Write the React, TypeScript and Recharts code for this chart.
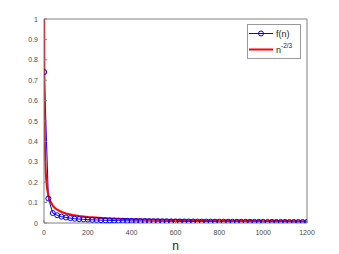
import React from 'react';
import { LineChart, Line, XAxis, YAxis, Legend } from 'recharts';

const blueN = [1, 20, 40, 60, 80, 100, 120, 140, 160, 180, 200, 220, 240, 260, 280, 300, 320, 340, 360, 380, 400, 420, 440, 460, 480, 500, 520, 540, 560, 580, 600, 620, 640, 660, 680, 700, 720, 740, 760, 780, 800, 820, 840, 860, 880, 900, 920, 940, 960, 980, 1000, 1020, 1040, 1060, 1080, 1100, 1120, 1140, 1160, 1180, 1200];
const blueF = [0.74, 0.12, 0.049, 0.038, 0.031, 0.027, 0.024, 0.021, 0.019, 0.018, 0.0165, 0.0155, 0.0147, 0.0139, 0.0132, 0.0126, 0.0121, 0.0116, 0.0112, 0.0108, 0.0104, 0.0101, 0.0098, 0.0095, 0.0092, 0.009, 0.0087, 0.0085, 0.0083, 0.0081, 0.0079, 0.0078, 0.0076, 0.0074, 0.0073, 0.0072, 0.007, 0.0069, 0.0068, 0.0066, 0.0065, 0.0064, 0.0063, 0.0062, 0.0061, 0.006, 0.0059, 0.0058, 0.0058, 0.0057, 0.0056, 0.0055, 0.0055, 0.0054, 0.0053, 0.0053, 0.0052, 0.0051, 0.0051, 0.005, 0.005];

const redN = [1, 2, 3, 4, 5, 6, 8, 10, 13, 16, 20, 25, 30, 40, 50, 60, 80, 100, 130, 160, 200, 250, 300, 400, 500, 600, 700, 800, 900, 1000, 1100, 1200];
const redV = [1, 0.63, 0.481, 0.397, 0.342, 0.303, 0.25, 0.215, 0.181, 0.157, 0.136, 0.117, 0.104, 0.0855, 0.0737, 0.0653, 0.0539, 0.0464, 0.039, 0.0339, 0.0292, 0.0252, 0.0223, 0.0184, 0.0159, 0.0141, 0.0127, 0.0116, 0.0107, 0.01, 0.0094, 0.0089];

const xTicks = [0, 200, 400, 600, 800, 1000, 1200];
const yTicks = [0, 0.1, 0.2, 0.3, 0.4, 0.5, 0.6, 0.7, 0.8, 0.9, 1];

const blueData = blueN.map((n, i) => ({ n, f: blueF[i] }));
const redData = redN.map((n, i) => ({ n, r: redV[i] }));

const AXIS = '#808080';
const TXT = '#4a4a4a';
const FONT = '"Liberation Sans", Arial, Helvetica, sans-serif';
const XM = 4;
const YM = 4;

const BottomTick = (props: any) => {
  const { x, y, payload } = props;
  const ay = y - XM;
  return (
    <g>
      <line x1={x} y1={ay} x2={x} y2={ay - 3} stroke={AXIS} strokeWidth={1} />
      <text x={x} y={ay + 12} textAnchor="middle" fontSize={7} fill={TXT} fontFamily={FONT}>
        {String(payload.value)}
      </text>
    </g>
  );
};

const LeftTick = (props: any) => {
  const { x, y, payload } = props;
  const ax = x + YM;
  return (
    <g>
      <line x1={ax} y1={y} x2={ax + 3} y2={y} stroke={AXIS} strokeWidth={1} />
      <text x={ax - 6} y={y + 2.5} textAnchor="end" fontSize={7} fill={TXT} fontFamily={FONT}>
        {String(Math.round(payload.value * 10) / 10)}
      </text>
    </g>
  );
};

const LegendBox = () => (
  <div style={{ width: 54, height: 35, boxSizing: 'border-box', border: '1px solid #999', background: '#fff' }}>
    <svg width={52} height={33} style={{ display: 'block' }}>
      <line x1={1} y1={8.5} x2={25} y2={8.5} stroke="#0000ff" strokeWidth={1} />
      <circle cx={13} cy={8.5} r={2.5} stroke="#0000ff" fill="none" strokeWidth={1} />
      <text x={28} y={11.5} fontSize={9} fill="#262626" fontFamily={FONT}>f(n)</text>
      <line x1={1} y1={24.5} x2={25} y2={24.5} stroke="#ff0000" strokeWidth={2} />
      <text x={28} y={27.5} fontSize={9} fill="#262626" fontFamily={FONT}>n</text>
      <text x={33} y={22.5} fontSize={6.5} fill="#262626" fontFamily={FONT}>-2/3</text>
    </svg>
  </div>
);

export default function App() {
  return (
    <div style={{ position: 'absolute', left: 0, top: 0, width: 339, height: 254, background: '#fff' }}>
      <LineChart width={339} height={254} margin={{ top: 19, right: 32, left: 8, bottom: 1 }}>
        <XAxis
          xAxisId="b"
          type="number"
          dataKey="n"
          domain={[0, 1200]}
          ticks={xTicks}
          interval={0}
          allowDataOverflow
          height={30}
          tickLine={false}
          tickSize={0}
          tickMargin={XM}
          tick={<BottomTick />}
          axisLine={{ stroke: AXIS }}
          label={{ value: 'n', position: 'insideBottom', offset: 3, fontSize: 12, fill: '#262626', fontFamily: FONT }}
        />
        <XAxis
          xAxisId="t"
          orientation="top"
          type="number"
          dataKey="n"
          domain={[0, 1200]}
          ticks={xTicks}
          interval={0}
          mirror
          tickSize={3}
          tickLine={{ stroke: AXIS }}
          axisLine={{ stroke: AXIS }}
          tickFormatter={() => ''}
        />
        <YAxis
          yAxisId="l"
          type="number"
          domain={[0, 1]}
          ticks={yTicks}
          interval={0}
          allowDataOverflow
          width={36}
          tickLine={false}
          tickSize={0}
          tickMargin={YM}
          tick={<LeftTick />}
          axisLine={{ stroke: AXIS }}
        />
        <YAxis
          yAxisId="r"
          orientation="right"
          type="number"
          domain={[0, 1]}
          ticks={yTicks}
          interval={0}
          mirror
          tickSize={3}
          tickLine={{ stroke: AXIS }}
          axisLine={{ stroke: AXIS }}
          tickFormatter={() => ''}
        />
        <Line
          xAxisId="b"
          yAxisId="l"
          data={blueData}
          dataKey="f"
          type="linear"
          stroke="#0000ff"
          strokeWidth={1}
          dot={{ r: 2.5, stroke: '#0000ff', fill: 'none', strokeWidth: 1 }}
          isAnimationActive={false}
        />
        <Line
          xAxisId="b"
          yAxisId="l"
          data={redData}
          dataKey="r"
          type="linear"
          stroke="#ff0000"
          strokeWidth={2}
          dot={false}
          isAnimationActive={false}
        />
        <Legend
          layout="vertical"
          align="center"
          verticalAlign="middle"
          content={() => <LegendBox />}
          wrapperStyle={{ position: 'absolute', left: 247, top: 24, width: 54, height: 35 }}
        />
      </LineChart>
    </div>
  );
}
